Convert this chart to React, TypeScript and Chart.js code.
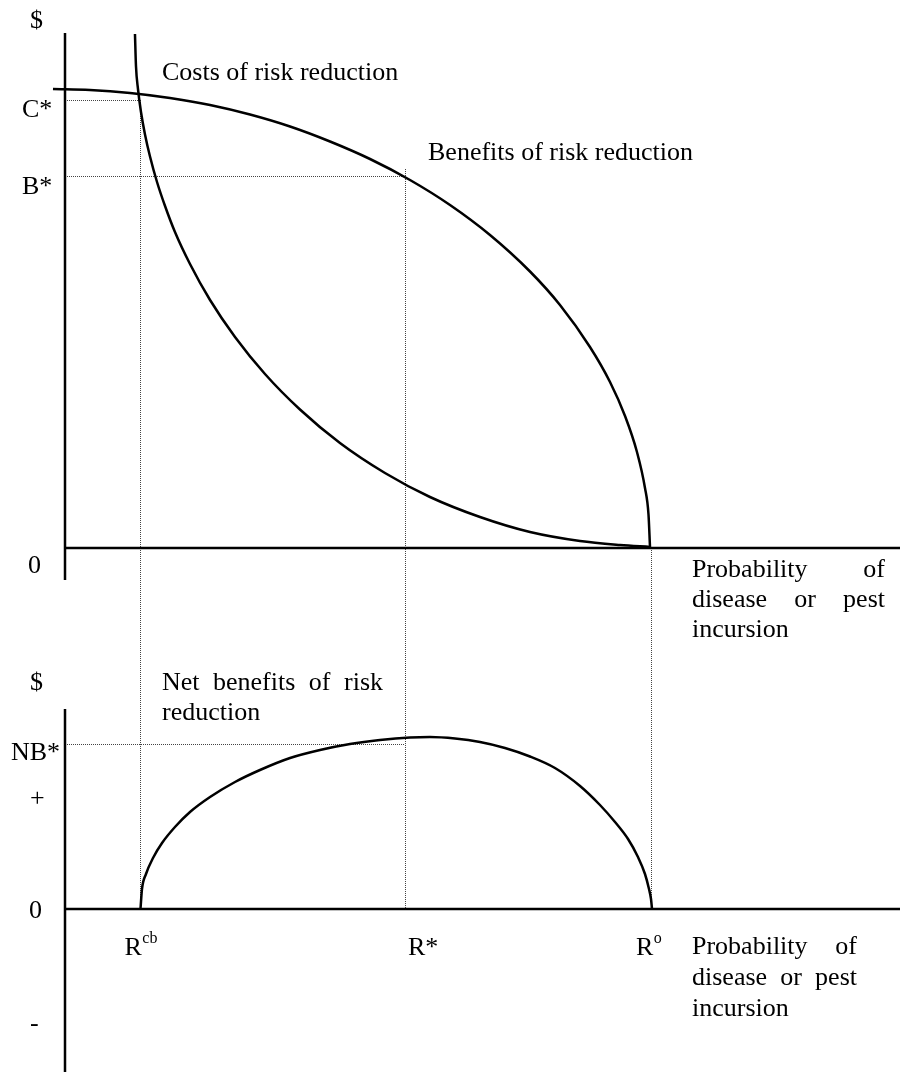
import React, { useEffect, useRef } from "react";
import { Chart, registerables } from "chart.js";

Chart.register(...registerables);

// ---- Data ----
// x: probability of disease or pest incursion (arbitrary units, 0 at the $ axis)
// top panel y: $ (costs / benefits); bottom panel y: $ (net benefits)
const benefitX = [-0.144, 0.299, 0.778, 1.257, 1.737, 2.216, 2.695, 3.174, 3.653, 4.132, 4.611, 5.09, 5.569, 5.928, 6.287, 6.527, 6.707, 6.85, 6.946, 6.988, 7.006];
const benefitY = [9.18, 9.16, 9.1, 9.0, 8.86, 8.67, 8.43, 8.13, 7.78, 7.36, 6.86, 6.26, 5.53, 4.86, 4.02, 3.32, 2.64, 1.92, 1.2, 0.67, 0.02];

const costX = [0.838, 0.85, 0.874, 0.91, 0.958, 1.018, 1.102, 1.198, 1.317, 1.497, 1.737, 2.036, 2.395, 2.814, 3.293, 3.832, 4.371, 4.97, 5.569, 6.168, 6.647, 7.006];
const costY = [10.28, 9.64, 9.18, 8.72, 8.27, 7.83, 7.32, 6.84, 6.32, 5.68, 4.96, 4.22, 3.48, 2.77, 2.1, 1.5, 1.02, 0.62, 0.32, 0.14, 0.06, 0.02];

const netX = [0.904, 0.922, 0.97, 1.054, 1.162, 1.317, 1.497, 1.737, 2.036, 2.335, 2.695, 3.054, 3.413, 3.772, 4.132, 4.371, 4.671, 4.97, 5.269, 5.569, 5.868, 6.168, 6.407, 6.587, 6.743, 6.862, 6.946, 6.994, 7.018, 7.03];
const netY = [0, 0.4, 0.7, 1.02, 1.32, 1.64, 1.94, 2.24, 2.54, 2.78, 3.02, 3.18, 3.3, 3.38, 3.43, 3.44, 3.41, 3.34, 3.22, 3.05, 2.82, 2.46, 2.08, 1.74, 1.4, 1.04, 0.7, 0.4, 0.2, 0];

// Reference levels
const R_CB = 0.904;
const R_STAR = 4.072;
const R_O = 7.018;
const C_STAR = 8.96;
const B_STAR = 7.44;
const NB_STAR = 3.3;

// Axis extents (data units)
const X_AXIS_END = 10;
const TOP_AXIS_RANGE = [-0.64, 10.3];
const BOT_AXIS_RANGE = [-3.26, 4.0];

// Text labels
const topYLabels = ["$", "C*", "B*", "0"];
const botYLabels = ["$", "NB*", "+", "0", "-"];
const xMarkLabels = [
  { base: "R", sup: "cb" },
  { base: "R*", sup: "" },
  { base: "R", sup: "o" },
];
const costLabel = "Costs of risk reduction";
const benefitLabel = "Benefits of risk reduction";
const netLabelLines = ["Net benefits of risk", "reduction"];
const xTitleLines = ["Probability of", "disease or pest", "incursion"];

const toPts = (xs: number[], ys: number[]) => xs.map((x, i) => ({ x, y: ys[i] }));

const FONT = '"Times New Roman", "Liberation Serif", serif';

function drawJustified(ctx: CanvasRenderingContext2D, text: string, x0: number, x1: number, y: number) {
  const words = text.split(" ");
  if (words.length < 2) {
    ctx.fillText(text, x0, y);
    return;
  }
  const widths = words.map((w) => ctx.measureText(w).width);
  const total = widths.reduce((a, b) => a + b, 0);
  const gap = (x1 - x0 - total) / (words.length - 1);
  let x = x0;
  words.forEach((w, i) => {
    ctx.fillText(w, x, y);
    x += widths[i] + gap;
  });
}

const diagramPlugin = {
  id: "diagram",
  beforeDatasetsDraw(chart: any) {
    const ctx: CanvasRenderingContext2D = chart.ctx;
    const xs = chart.scales.x;
    const yt = chart.scales.yTop;
    const yb = chart.scales.yBot;
    const px = (v: number) => xs.getPixelForValue(v);
    const pt = (v: number) => yt.getPixelForValue(v);
    const pb = (v: number) => yb.getPixelForValue(v);
    const crisp = (p: number) => Math.round(p) + 0.5;
    const seg = (x1: number, y1: number, x2: number, y2: number) => {
      ctx.beginPath();
      ctx.moveTo(x1, y1);
      ctx.lineTo(x2, y2);
      ctx.stroke();
    };

    // dotted guide lines
    ctx.save();
    ctx.strokeStyle = "#444";
    ctx.lineWidth = 1;
    ctx.setLineDash([1, 1]);
    seg(px(0), crisp(pt(C_STAR)), px(R_CB), crisp(pt(C_STAR)));
    seg(px(0), crisp(pt(B_STAR)), px(R_STAR), crisp(pt(B_STAR)));
    seg(px(0), crisp(pb(NB_STAR)), px(R_STAR), crisp(pb(NB_STAR)));
    seg(crisp(px(R_CB)), pt(C_STAR), crisp(px(R_CB)), pb(0));
    seg(crisp(px(R_STAR)), pt(B_STAR) - 7, crisp(px(R_STAR)), pb(0));
    seg(crisp(px(R_O)), pt(0), crisp(px(R_O)), pb(0));
    ctx.restore();

    // axes
    ctx.save();
    ctx.strokeStyle = "#000";
    ctx.lineWidth = 2.5;
    ctx.setLineDash([]);
    seg(px(0), pt(TOP_AXIS_RANGE[1]), px(0), pt(TOP_AXIS_RANGE[0]));
    seg(px(0), pt(0), px(X_AXIS_END), pt(0));
    seg(px(0), pb(BOT_AXIS_RANGE[1]), px(0), pb(BOT_AXIS_RANGE[0]));
    seg(px(0), pb(0), px(X_AXIS_END), pb(0));
    ctx.restore();
  },
  afterDatasetsDraw(chart: any) {
    const ctx: CanvasRenderingContext2D = chart.ctx;
    const xs = chart.scales.x;
    const yt = chart.scales.yTop;
    const yb = chart.scales.yBot;
    const px = (v: number) => xs.getPixelForValue(v);
    const pt = (v: number) => yt.getPixelForValue(v);
    const pb = (v: number) => yb.getPixelForValue(v);

    ctx.save();
    ctx.fillStyle = "#000";
    ctx.textBaseline = "alphabetic";
    ctx.textAlign = "left";
    ctx.font = `26px ${FONT}`;

    // top panel y labels
    ctx.fillText(topYLabels[0], 30, 28);
    ctx.fillText(topYLabels[1], 22, pt(C_STAR) + 17);
    ctx.fillText(topYLabels[2], 22, pt(B_STAR) + 18);
    ctx.fillText(topYLabels[3], 28, pt(0) + 25);

    // curve labels
    ctx.fillText(costLabel, 162, 80);
    ctx.fillText(benefitLabel, 428, 160);

    // top x title (justified)
    const xt0 = px(R_O) + 41;
    drawJustified(ctx, xTitleLines[0], xt0, 885, pt(0) + 29);
    drawJustified(ctx, xTitleLines[1], xt0, 885, pt(0) + 59);
    ctx.fillText(xTitleLines[2], xt0, pt(0) + 89);

    // bottom panel y labels
    ctx.fillText(botYLabels[0], 30, 690);
    ctx.fillText(botYLabels[1], 11, pb(NB_STAR) + 16);
    ctx.fillText(botYLabels[2], 30, 806);
    ctx.fillText(botYLabels[3], 29, pb(0) + 9);
    ctx.fillText(botYLabels[4], 30, 1031);

    // net benefits label
    drawJustified(ctx, netLabelLines[0], 162, 383, 690);
    ctx.fillText(netLabelLines[1], 162, 720);

    // x markers
    const markXs = [R_CB, R_STAR, R_O];
    const markOffsets = [-16, 3, -15];
    const baseY = pb(0) + 46;
    xMarkLabels.forEach((m, i) => {
      const x0 = px(markXs[i]) + markOffsets[i];
      ctx.font = `26px ${FONT}`;
      ctx.fillText(m.base, x0, baseY);
      if (m.sup) {
        const w = ctx.measureText(m.base).width;
        ctx.font = `16px ${FONT}`;
        ctx.fillText(m.sup, x0 + w + 0.5, baseY - 12);
      }
    });

    // bottom x title (justified)
    ctx.font = `26px ${FONT}`;
    drawJustified(ctx, xTitleLines[0], xt0, 857, pb(0) + 45);
    drawJustified(ctx, xTitleLines[1], xt0, 857, pb(0) + 76);
    ctx.fillText(xTitleLines[2], xt0, pb(0) + 107);

    ctx.restore();
  },
};

export default function App() {
  const ref = useRef<HTMLCanvasElement>(null);

  useEffect(() => {
    if (!ref.current) return;
    const lineStyle = {
      borderColor: "#000",
      borderWidth: 2.5,
      pointRadius: 0,
      fill: false,
      cubicInterpolationMode: "monotone" as const,
    };
    const chart = new Chart(ref.current, {
      type: "line",
      data: {
        datasets: [
          { label: "Benefits of risk reduction", data: toPts(benefitX, benefitY), yAxisID: "yTop", ...lineStyle },
          { label: "Costs of risk reduction", data: toPts(costX, costY), yAxisID: "yTop", ...lineStyle },
          { label: "Net benefits of risk reduction", data: toPts(netX, netY), yAxisID: "yBot", ...lineStyle },
        ],
      },
      options: {
        responsive: false,
        animation: false,
        events: [],
        layout: { padding: 0 },
        plugins: { legend: { display: false }, tooltip: { enabled: false } },
        scales: {
          x: { type: "linear", display: false, min: -65 / 83.5, max: 835 / 83.5 },
          yTop: { type: "linear", display: false, position: "left", min: -(1072 - 548) / 50, max: 548 / 50 },
          yBot: { type: "linear", display: false, position: "left", min: -(1072 - 909) / 50, max: 909 / 50 },
        },
      },
      plugins: [diagramPlugin],
    });
    return () => chart.destroy();
  }, []);

  return (
    <div style={{ position: "absolute", left: 0, top: 0, width: 900, height: 1072, background: "#fff" }}>
      <canvas ref={ref} width={900} height={1072} style={{ display: "block" }} />
    </div>
  );
}
